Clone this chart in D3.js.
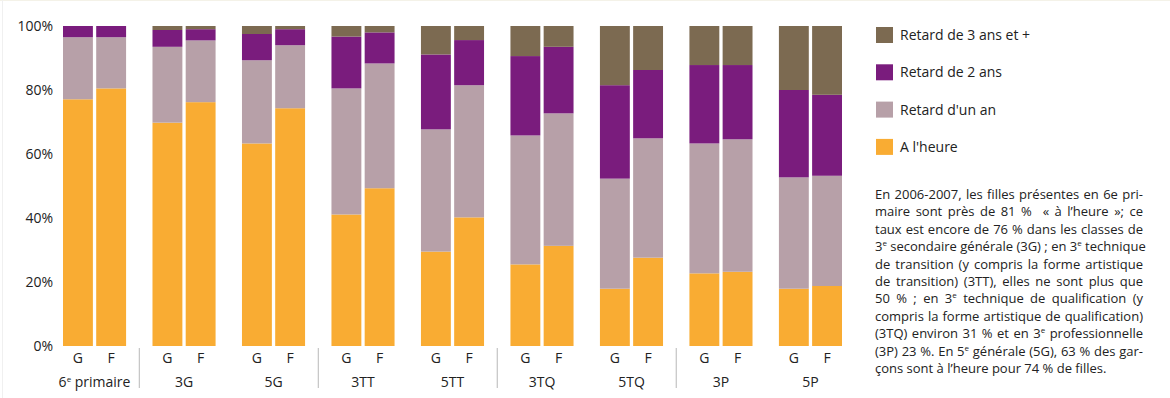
<!DOCTYPE html>
<html>
<head>
<meta charset="utf-8">
<script src="https://cdn.jsdelivr.net/npm/d3@7/dist/d3.min.js"></script>
<style>
  html, body { margin: 0; padding: 0; background: #fff; }
  body { width: 1170px; height: 398px; position: relative; overflow: hidden; font-family: "Open Sans", "Noto Sans", sans-serif; color: #222; }
  svg { position: absolute; left: 0; top: 0; }
  #note { position: absolute; left: 875px; top: 186px; width: 268px; font-size: 13px; line-height: 17.4px; color: #222; }
  #note div { white-space: nowrap; text-align: justify; text-align-last: justify; }
  #note div.last { text-align-last: left; }
  #note sup { font-size: 8px; line-height: 0; vertical-align: 5px; }
</style>
</head>
<body>
<svg id="chart" width="1170" height="398"></svg>
<div id="note"></div>
<script>
// ---- data ----
const groups = ["6e primaire", "3G", "5G", "3TT", "5TT", "3TQ", "5TQ", "3P", "5P"];
const sexes = ["G", "F"];
const seriesNames = ["A l'heure", "Retard d'un an", "Retard de 2 ans", "Retard de 3 ans et +"];
// values in order: group1 G, group1 F, group2 G, group2 F, ...
const aLheure      = [77.1, 80.5, 69.8, 76.2, 63.3, 74.3, 41.1, 49.3, 29.5, 40.2, 25.5, 31.3, 17.9, 27.6, 22.7, 23.2, 17.9, 18.75];
const retardUnAn   = [19.4, 16.0, 23.7, 19.3, 26.0, 19.7, 39.4, 39.0, 38.2, 41.3, 40.3, 41.4, 34.4, 37.3, 40.6, 41.4, 34.8, 34.45];
const retardDeuxAns= [ 3.5,  3.5,  5.25, 3.5,  8.2,  5.0, 16.2,  9.7, 23.4, 14.1, 24.8, 20.8, 29.2, 21.35, 24.5, 23.2, 27.3, 25.3];
const retardTrois  = [ 0.0,  0.0,  1.25, 1.0,  2.5,  1.0,  3.3,  2.0,  8.9,  4.4,  9.4,  6.5, 18.5, 13.75, 12.2, 12.2, 20.0, 21.5];
const yTicks = [0, 20, 40, 60, 80, 100];
const colors = ["#F9AC33", "#B7A0A8", "#7A1C7D", "#7C6A51"];

const noteLines = [
  "En 2006-2007, les filles présentes en 6e pri-",
  "maire sont près de 81 %&nbsp; « à l’heure »; ce",
  "taux est encore de 76 % dans les classes de",
  "3<sup>e</sup> secondaire générale (3G) ; en 3<sup>e</sup> technique",
  "de transition (y compris la forme artistique",
  "de transition) (3TT), elles ne sont plus que",
  "50 % ; en 3<sup>e</sup> technique de qualification (y",
  "compris la forme artistique de qualification)",
  "(3TQ) environ 31 % et en 3<sup>e</sup> professionnelle",
  "(3P) 23 %. En 5<sup>e</sup> générale (5G), 63 % des gar-",
  "çons sont à l’heure pour 74 % de filles."
];

// ---- build rows ----
const rows = [];
groups.forEach((g, gi) => {
  sexes.forEach((s, si) => {
    const i = gi * 2 + si;
    rows.push({ group: g, sex: s,
      [seriesNames[0]]: aLheure[i], [seriesNames[1]]: retardUnAn[i],
      [seriesNames[2]]: retardDeuxAns[i], [seriesNames[3]]: retardTrois[i] });
  });
});

const svg = d3.select("#chart");

// faint frame
svg.append("line").attr("x1", 0).attr("x2", 1170).attr("y1", 0.5).attr("y2", 0.5).attr("stroke", "#f4f2e8");
svg.append("line").attr("x1", 2.5).attr("x2", 2.5).attr("y1", 0).attr("y2", 398).attr("stroke", "#f0f0f0");

const x0 = d3.scaleBand().domain(groups).range([63, 842]).paddingInner(0.295).paddingOuter(0);
const x1 = d3.scaleBand().domain(sexes).range([0, x0.bandwidth()]).paddingInner(0.1);
const y = d3.scaleLinear().domain([0, 100]).range([346, 26]);
const color = d3.scaleOrdinal().domain(seriesNames).range(colors);

const stack = d3.stack().keys(seriesNames);
const stacked = stack(rows);

const layers = svg.append("g").selectAll("g").data(stacked).join("g")
  .attr("fill", d => color(d.key));
layers.selectAll("rect").data(d => d).join("rect")
  .attr("x", d => x0(d.data.group) + x1(d.data.sex))
  .attr("width", x1.bandwidth())
  .attr("y", d => y(d[1]))
  .attr("height", d => Math.max(0, y(d[0]) - y(d[1])));

// y axis
const yAxis = svg.append("g").attr("transform", "translate(63,0)")
  .call(d3.axisLeft(y).tickValues(yTicks).tickFormat(d => d + "%").tickSize(0).tickPadding(10));
yAxis.select(".domain").remove();
yAxis.selectAll("text").attr("font-family", "'Open Sans', sans-serif").attr("font-size", 14).attr("fill", "#222");

// sex labels
const xAxis = svg.append("g");
rows.forEach(r => {
  xAxis.append("text")
    .attr("x", x0(r.group) + x1(r.sex) + x1.bandwidth() / 2)
    .attr("y", 363)
    .attr("text-anchor", "middle")
    .attr("font-size", 14).attr("fill", "#222")
    .text(r.sex);
});
// group labels
groups.forEach(g => {
  const t = xAxis.append("text")
    .attr("x", x0(g) + x0.bandwidth() / 2)
    .attr("y", 387)
    .attr("text-anchor", "middle")
    .attr("font-size", 14).attr("fill", "#222");
  if (g === "6e primaire") {
    t.append("tspan").text("6");
    t.append("tspan").attr("font-size", 8).attr("dy", -5).text("e");
    t.append("tspan").attr("dy", 5).text(" primaire");
  } else {
    t.text(g);
  }
});
// separators
groups.forEach((g, i) => {
  if (i % 2 === 0 && i < groups.length - 1) {
    const xm = (x0(g) + x0.bandwidth() + x0(groups[i + 1])) / 2;
    svg.append("line").attr("x1", xm).attr("x2", xm).attr("y1", 348).attr("y2", 388)
      .attr("stroke", "#b8b8b8").attr("stroke-width", 1);
  }
});

// legend
const legendOrder = seriesNames.slice().reverse();
const lg = svg.append("g").attr("transform", "translate(876,27)");
legendOrder.forEach((k, i) => {
  const row = lg.append("g").attr("transform", `translate(0,${i * 37.3})`);
  row.append("rect").attr("width", 17).attr("height", 16).attr("fill", color(k));
  row.append("text").attr("x", 24).attr("y", 13).attr("font-size", 14).attr("fill", "#222").text(k);
});

// note paragraph
const note = d3.select("#note");
noteLines.forEach((l, i) => {
  note.append("div").attr("class", i === noteLines.length - 1 ? "last" : null).html(l);
});
</script>
</body>
</html>
